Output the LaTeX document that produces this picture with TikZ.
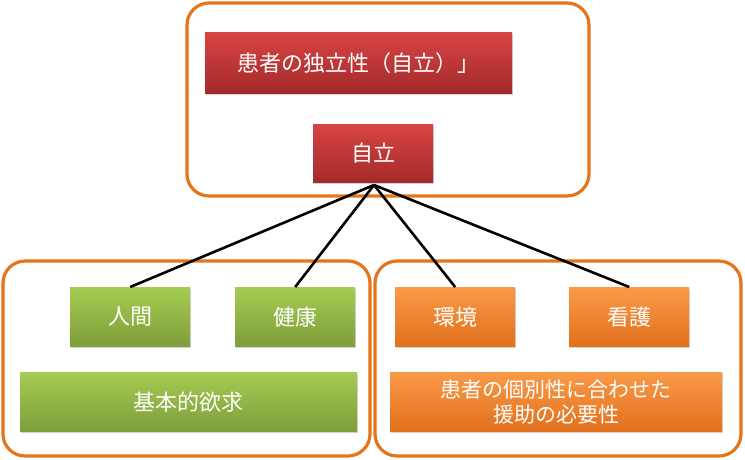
\documentclass[tikz,border=0pt]{standalone}
\usepackage{fontspec}
\setmainfont{Noto Sans CJK JP}
\usetikzlibrary{shadows}
\definecolor{rt}{HTML}{D84444}
\definecolor{rb}{HTML}{A42A2A}
\definecolor{gt}{HTML}{A5CC52}
\definecolor{gb}{HTML}{7E9E3A}
\definecolor{ot}{HTML}{F99A48}
\definecolor{ob}{HTML}{E2701C}
\definecolor{og}{HTML}{E4751A}
\begin{document}
\begin{tikzpicture}[x=1pt,y=-1pt,
  grp/.style={draw=og,line width=3.2pt,rounded corners=22pt},
  bx/.style={anchor=north west,inner sep=0pt,text=white,font=\fontsize{22}{28}\selectfont,align=center,drop shadow={opacity=0.35,shadow xshift=1pt,shadow yshift=-1.5pt}},
  redb/.style={bx,top color=rt,bottom color=rb},
  grnb/.style={bx,top color=gt,bottom color=gb},
  orgb/.style={bx,top color=ot,bottom color=ob},
  ln/.style={line width=2.6pt}]
\useasboundingbox (0,0) rectangle (745,459);
\draw[grp] (187,3) rectangle (589,196);
\draw[grp] (3,261) rectangle (370,456);
\draw[grp] (375,261) rectangle (741,456);
\coordinate (hub) at (374,185);
\node[redb,minimum width=307pt,minimum height=61pt] (t) at (205,32) {患者の独立性（自立）」};
\node[redb,minimum width=120pt,minimum height=58pt] (j) at (313,124) {自立};
\node[grnb,minimum width=120pt,minimum height=59pt] (a) at (70,287) {人間};
\node[grnb,minimum width=120pt,minimum height=59pt] (b) at (235,287) {健康};
\node[grnb,minimum width=337pt,minimum height=59pt] (c) at (20,372) {基本的欲求};
\node[orgb,minimum width=120pt,minimum height=59pt] (d) at (395,287) {環境};
\node[orgb,minimum width=120pt,minimum height=59pt] (e) at (569,287) {看護};
\node[orgb,minimum width=332pt,minimum height=59pt,font=\fontsize{21}{25}\selectfont] (f) at (390,372) {患者の個別性に合わせた\\援助の必要性};
\draw[ln] (hub) -- (a.north);
\draw[ln] (hub) -- (b.north);
\draw[ln] (hub) -- (d.north);
\draw[ln] (hub) -- (e.north);
\end{tikzpicture}
\end{document}
